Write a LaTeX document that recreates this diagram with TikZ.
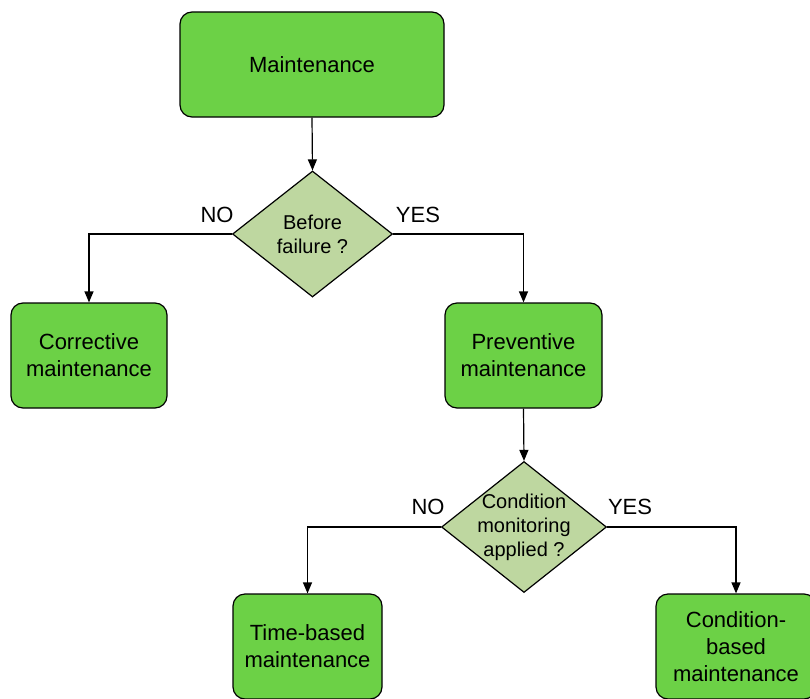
\documentclass[tikz,border=0pt]{standalone}
\usepackage{fontspec}
\setmainfont{Liberation Sans}
\usetikzlibrary{shapes.geometric,arrows.meta}
\definecolor{boxgreen}{RGB}{108,209,70}
\definecolor{diagreen}{RGB}{190,215,160}
\begin{document}
\begin{tikzpicture}[x=1pt,y=-1pt,
  box/.style={draw=black,line width=1.2pt,fill=boxgreen,rounded corners=12pt,
    minimum height=105pt,inner sep=0pt,align=center,
    font=\fontsize{22}{27}\selectfont},
  dia/.style={draw=black,line width=1.2pt,fill=diagreen,diamond,inner sep=0pt},
  diatext/.style={align=center,font=\fontsize{20}{24}\selectfont,inner sep=0pt},
  lbl/.style={font=\fontsize{22}{26}\selectfont,inner sep=0pt},
  conn/.style={line width=1.2pt,-{Triangle[length=11pt,width=9pt]}}]
\useasboundingbox (0,0) rectangle (810,698);
\clip (0,0) rectangle (810,698);
\node[box,minimum width=264pt] (m) at (312,64.5) {Maintenance};
\node[dia,minimum width=160pt,minimum height=126pt] (d1) at (312.5,234) {};
\node[diatext] (d1t) at (312.5,234) {Before\\failure ?};
\node[box,minimum width=156pt] (c) at (89,355.5) {Corrective\\maintenance};
\node[box,minimum width=157pt] (p) at (523.5,355.5) {Preventive\\maintenance};
\node[dia,minimum width=165pt,minimum height=131pt] (d2) at (524,527) {};
\node[diatext] (d2t) at (524,527) {Condition\\monitoring\\applied ?};
\node[box,minimum width=149pt] (t) at (307.5,646.5) {Time-based\\maintenance};
\node[box,minimum width=160pt] (cb) at (736,646.5) {Condition-\\based\\maintenance};
\node[lbl] (no1) at (217,215) {NO};
\node[lbl] (yes1) at (418,215) {YES};
\node[lbl] (no2) at (428,507) {NO};
\node[lbl] (yes2) at (630,507) {YES};
\draw[conn] (m.south) -- (d1.north);
\draw[conn] (d1.west) -| (c.north);
\draw[conn] (d1.east) -| (p.north);
\draw[conn] (p.south) -- (d2.north);
\draw[conn] (d2.west) -| (t.north);
\draw[conn] (d2.east) -| (cb.north);
\end{tikzpicture}
\end{document}
